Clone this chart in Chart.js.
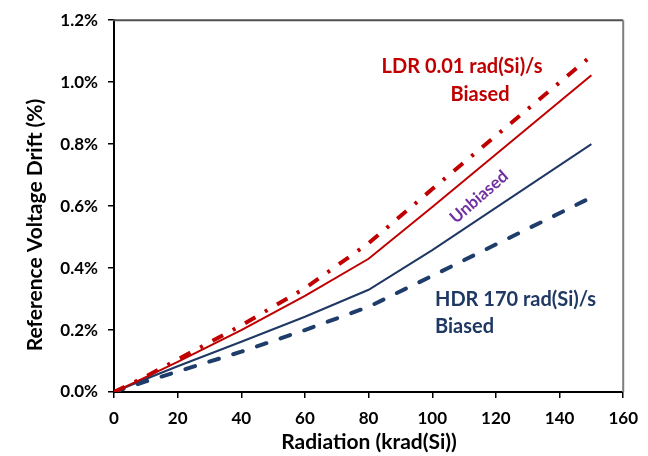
<!DOCTYPE html>
<html>
<head>
<meta charset="utf-8">
<script src="https://cdn.jsdelivr.net/npm/chart.js@4.4.1/dist/chart.umd.min.js"></script>
<style>
  html, body { margin: 0; padding: 0; background: #ffffff; }
  #wrap { width: 648px; height: 456px; position: relative; }
  canvas { display: block; }
</style>
</head>
<body>
<div id="wrap"><canvas id="c" width="648" height="456"></canvas></div>
<script>
// ---- data ----
const radiation = [0, 10, 20, 40, 60, 80, 100, 150];           // krad(Si)
const ldrBiased   = [0, 0.050, 0.105, 0.215, 0.335, 0.480, 0.655, 1.085]; // %
const ldrUnbiased = [0, 0.048, 0.097, 0.200, 0.310, 0.430, 0.597, 1.022]; // %
const hdrUnbiased = [0, 0.042, 0.083, 0.162, 0.243, 0.330, 0.458, 0.800]; // %
const hdrBiased   = [0, 0.034, 0.066, 0.130, 0.200, 0.275, 0.375, 0.628]; // %
const xTicks = [0, 20, 40, 60, 80, 100, 120, 140, 160];
const yTicks = [0, 0.2, 0.4, 0.6, 0.8, 1.0, 1.2];
const xTitle = 'Radiation (krad(Si))';
const yTitle = 'Reference Voltage Drift (%)';
const ldrLabel = ['LDR 0.01 rad(Si)/s', 'Biased'];
const hdrLabel = ['HDR 170 rad(Si)/s', 'Biased'];
const unbiasedLabel = 'Unbiased';

const RED = '#C00000';
const NAVY = '#1F3864';
const NAVY2 = '#1F3D6B';
const PURPLE = '#7030A0';
const FONT = 'Lato, "Open Sans", sans-serif';

function pts(ys) { return radiation.map((x, i) => ({ x: x, y: ys[i] })); }

const annot = {
  id: 'annot',
  afterDraw(chart) {
    const ctx = chart.ctx;
    const a = chart.chartArea;
    ctx.save();
    // frame top & right
    ctx.lineWidth = 2;
    ctx.strokeStyle = '#505050';
    ctx.beginPath(); ctx.moveTo(a.left - 1, a.top); ctx.lineTo(a.right, a.top); ctx.stroke();
    ctx.strokeStyle = '#7f7f7f';
    ctx.beginPath(); ctx.moveTo(a.right, a.top); ctx.lineTo(a.right, a.bottom); ctx.stroke();

    // axis titles
    ctx.fillStyle = '#000';
    ctx.font = 'bold 21px ' + FONT;
    ctx.textAlign = 'center'; ctx.textBaseline = 'middle';
    ctx.fillText(xTitle, 369, 442);
    ctx.save();
    ctx.translate(35, 225);
    ctx.rotate(-Math.PI / 2);
    ctx.fillText(yTitle, 0, 0);
    ctx.restore();

    // series labels
    ctx.font = 'bold 20px ' + FONT;
    ctx.fillStyle = RED;
    ctx.textAlign = 'center';
    ctx.fillText(ldrLabel[0], 462, 67);
    ctx.fillText(ldrLabel[1], 480, 95);
    ctx.fillStyle = NAVY;
    ctx.textAlign = 'left';
    ctx.fillText(hdrLabel[0], 435, 300);
    ctx.fillText(hdrLabel[1], 435, 327);

    ctx.fillStyle = PURPLE;
    ctx.font = 'bold 17px ' + FONT;
    ctx.textAlign = 'center';
    ctx.save();
    ctx.translate(479, 197);
    ctx.rotate(-41 * Math.PI / 180);
    ctx.fillText(unbiasedLabel, 0, 0);
    ctx.restore();
    ctx.restore();
  }
};

new Chart(document.getElementById('c'), {
  type: 'line',
  data: {
    datasets: [
      { label: 'LDR Biased', data: pts(ldrBiased), borderColor: RED, borderWidth: 4,
        borderDash: [12, 11, 3, 11], borderCapStyle: 'butt', pointRadius: 0, tension: 0, fill: false },
      { label: 'LDR Unbiased', data: pts(ldrUnbiased), borderColor: RED, borderWidth: 2,
        pointRadius: 0, tension: 0, fill: false },
      { label: 'HDR Unbiased', data: pts(hdrUnbiased), borderColor: NAVY, borderWidth: 2,
        pointRadius: 0, tension: 0, fill: false },
      { label: 'HDR Biased', data: pts(hdrBiased), borderColor: NAVY2, borderWidth: 4,
        borderDash: [10, 15], borderCapStyle: 'round', pointRadius: 0, tension: 0, fill: false }
    ]
  },
  options: {
    responsive: false,
    animation: false,
    devicePixelRatio: 1,
    layout: { padding: { left: 0, right: 22, top: 14, bottom: 0 } },
    plugins: { legend: { display: false }, tooltip: { enabled: false } },
    scales: {
      x: {
        type: 'linear', min: 0, max: 160,
        afterBuildTicks(s) { s.ticks = xTicks.map(v => ({ value: v })); },
        afterFit(s) { s.height = 64; },
        grid: { display: true, drawOnChartArea: false, drawTicks: true, tickLength: 6, color: '#000', lineWidth: 1.5 },
        border: { display: true, color: '#000', width: 2 },
        ticks: { color: '#000', font: { family: FONT, size: 17, weight: 'bold' }, padding: 10, maxRotation: 0 }
      },
      y: {
        type: 'linear', min: 0, max: 1.2,
        afterBuildTicks(s) { s.ticks = yTicks.map(v => ({ value: v })); },
        afterFit(s) { s.width = 114; },
        grid: { display: true, drawOnChartArea: false, drawTicks: true, tickLength: 6, color: '#000', lineWidth: 1.5 },
        border: { display: true, color: '#000', width: 2 },
        ticks: { color: '#000', font: { family: FONT, size: 17, weight: 'bold' }, padding: 10,
          callback: v => v.toFixed(1) + '%' }
      }
    }
  },
  plugins: [annot]
});
</script>
</body>
</html>
